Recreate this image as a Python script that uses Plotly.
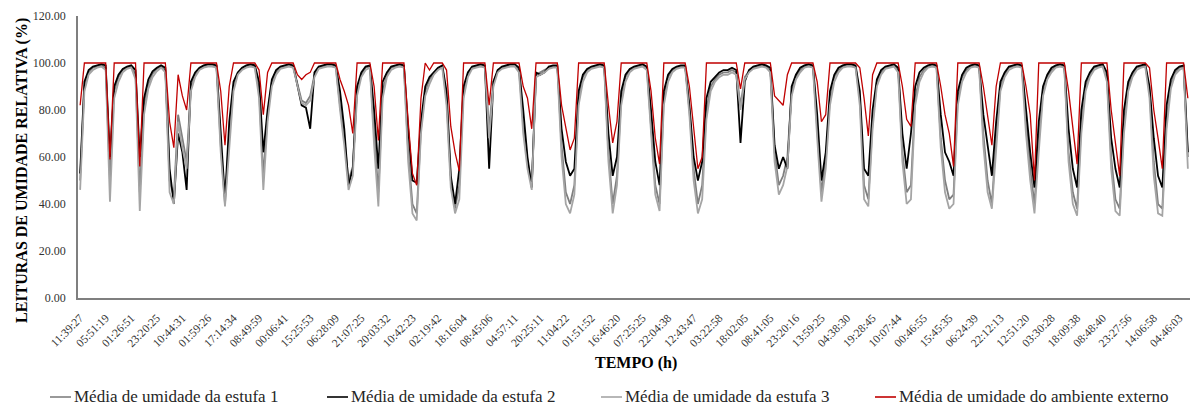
import plotly.graph_objects as go

tick_labels = ["11:39:27", "05:51:19", "01:26:51", "23:20:25", "10:44:31", "01:59:26", "17:14:34",
               "08:49:59", "00:06:41", "15:25:53", "06:28:09", "21:07:25", "20:03:32", "10:42:23",
               "02:19:42", "18:16:04", "08:45:06", "04:57:11", "20:25:11", "11:04:22", "01:51:52",
               "16:46:20", "07:25:25", "22:04:38", "12:43:47", "03:22:58", "18:02:05", "08:41:05",
               "23:20:16", "13:59:25", "04:38:30", "19:28:45", "10:07:44", "00:46:55", "15:45:35",
               "06:24:39", "22:12:13", "12:51:20", "03:30:28", "18:09:38", "08:48:40", "23:27:56",
               "14:06:58", "04:46:03"]
label_every = 6

# Média de umidade do ambiente externo (%)
externo = [
    82, 100, 100, 100, 100, 100, 100, 59, 100, 100, 100, 100, 100, 100, 56,
    100, 100, 100, 100, 100, 100, 75, 64, 95, 86, 80,
    100, 100, 100, 100, 100, 100, 100, 88, 65, 90,
    100, 100, 100, 100, 100, 100, 97, 78, 96,
    100, 100, 100, 100, 100, 100, 95, 93, 95, 96,
    100, 100, 100, 100, 100, 100, 93, 88, 82, 70,
    100, 100, 100, 100, 90, 67,
    100, 100, 100, 100, 100, 100, 75, 53, 48, 85,
    100, 97, 100, 100, 100, 97, 73, 62, 54,
    100, 100, 100, 100, 100, 100, 82,
    100, 100, 100, 100, 100, 100, 100, 90, 85, 72,
    100, 100, 100, 100, 100, 100, 82, 72, 63, 68,
    100, 100, 100, 100, 100, 100, 100, 82, 66, 75,
    100, 100, 100, 100, 100, 100, 100, 88, 68, 57,
    100, 100, 100, 100, 100, 100, 90, 73, 55, 60,
    100, 100, 100, 100, 100, 100, 100, 100, 89,
    100, 100, 100, 100, 100, 100, 100, 86, 84, 82, 95,
    100, 100, 100, 100, 100, 100, 92, 75, 78,
    100, 100, 100, 100, 100, 100, 100, 98, 85, 69, 95,
    100, 100, 100, 100, 100, 100, 90, 76, 73,
    100, 100, 100, 100, 100, 100, 90, 78, 70, 56,
    100, 100, 100, 100, 100, 100, 90, 78, 65, 90,
    100, 100, 100, 100, 100, 100, 90, 78, 50,
    100, 100, 100, 100, 100, 100, 100, 88, 72, 57,
    100, 100, 100, 100, 100, 100, 100, 80, 66, 52,
    100, 100, 100, 100, 100, 100, 98, 80, 68, 55,
    100, 100, 100, 100, 100, 85]

# Média de umidade da estufa 2 (%)
estufa2 = [
    53, 92, 97, 98.5, 99, 99.5, 99, 60, 90, 95, 97.5, 98.5, 99, 97, 60,
    85, 93, 96.5, 98, 99, 98, 55, 40, 70, 62, 46,
    92, 96, 98, 99, 99.5, 99.5, 99, 68, 42, 75,
    92, 96, 98, 99, 99.5, 99, 92, 62, 80,
    93, 97, 98.5, 99, 99.5, 99, 90, 82, 81, 72,
    96, 98.5, 99, 99.5, 99.5, 99, 88, 72, 48, 55,
    90, 96, 98.5, 99, 80, 55,
    92, 96, 98.5, 99, 99.5, 99, 72, 50, 49, 75,
    90, 94, 96, 98, 99, 88, 52, 40, 55,
    90, 96, 98.5, 99, 99.5, 99, 55,
    92, 97, 98.5, 99, 99.5, 99.5, 98, 80, 60, 47,
    96, 95, 96, 98.5, 99, 99, 72, 58, 52, 55,
    88, 95, 97.5, 98.5, 99, 99.5, 99, 70, 52, 60,
    88, 95, 97.5, 98.5, 99, 99.5, 98.5, 80, 58, 48,
    88, 95, 97.5, 98.5, 99, 99, 82, 60, 50, 58,
    85, 92, 94, 96, 97, 97, 98, 97, 66,
    92, 97, 98.5, 99, 99.5, 99, 98, 65, 55, 60, 55,
    90, 95, 98, 99, 99.5, 99, 78, 50, 62,
    88, 95, 98, 99, 99.5, 99.5, 99, 88, 55, 52, 80,
    93, 97, 98.5, 99, 99.5, 98, 70, 55, 70,
    90, 96, 98, 99, 99.5, 99, 78, 62, 58, 52,
    88, 95, 98, 99, 99.5, 99, 78, 65, 52, 75,
    92, 96, 98.5, 99, 99.5, 99, 80, 62, 47,
    75, 90, 95, 98, 99, 99.5, 99, 72, 55, 47,
    80, 92, 96, 98.5, 99, 99.5, 96, 68, 55, 47,
    80, 92, 96, 98.5, 99, 99.5, 90, 68, 52, 47,
    82, 93, 97, 98.5, 99, 62]

# Média de umidade da estufa 1 (%)
estufa1 = [
    50, 90, 96, 98, 98.5, 99, 98, 50, 88, 94, 97, 98, 98.5, 95, 45,
    82, 91, 95.5, 97.5, 98.5, 97, 50, 43, 78, 68, 58,
    90, 95, 97.5, 98.5, 99, 99, 98.5, 65, 40, 70,
    90, 95.5, 97.5, 98.5, 99, 98.5, 88, 52, 78,
    92, 96, 98, 98.5, 99, 98.5, 91, 84, 83, 86,
    95, 98, 98.5, 99, 99, 98.5, 82, 68, 50, 56,
    88, 95, 98, 98.5, 70, 45,
    88, 95, 98, 98.5, 99, 98.5, 62, 40, 36, 72,
    88, 93, 95.5, 97.5, 98.5, 85, 50, 38, 48,
    88, 95, 98, 98.5, 99, 98.5, 72,
    92, 96.5, 98, 98.5, 99, 99, 97, 75, 58, 48,
    95, 96, 97, 98, 98.5, 98.5, 65, 45, 40, 48,
    85, 94, 97, 98, 98.5, 99, 98.5, 62, 40, 52,
    85, 94, 97, 98, 98.5, 99, 98, 72, 48, 40,
    85, 94, 97, 98, 98.5, 98.5, 80, 55, 40, 48,
    80, 90, 93, 95, 96, 96, 97, 96, 82,
    94, 96.5, 98, 98.5, 99, 98.5, 97, 62, 48, 52, 60,
    88, 94, 97, 98.5, 99, 98.5, 72, 45, 58,
    85, 94, 97, 98.5, 99, 99, 98.5, 85, 48, 42, 75,
    92, 96, 98, 98.5, 99, 97, 62, 45, 48,
    85, 94, 97, 98.5, 99, 98.5, 68, 50, 42, 44,
    85, 94, 97, 98.5, 99, 98.5, 70, 50, 40, 68,
    90, 95, 98, 98.5, 99, 98.5, 75, 55, 40,
    68, 88, 94, 97, 98.5, 99, 98.5, 62, 45, 38,
    75, 90, 95, 98, 98.5, 99, 94, 60, 42, 38,
    75, 90, 95, 98, 98.5, 99, 88, 58, 40, 38,
    76, 91, 96, 98, 98.5, 60]

# Média de umidade da estufa 3 (%)
estufa3 = [
    46, 88, 95, 97, 98, 98.5, 97, 41, 85, 92, 96, 97.5, 98, 93, 37,
    78, 89, 94, 96.5, 98, 96, 45, 40, 75, 64, 55,
    88, 94, 97, 98, 98.5, 98.5, 98, 62, 39, 65,
    88, 95, 97, 98, 98.5, 98, 85, 46, 75,
    90, 95, 97.5, 98, 98.5, 98, 90, 83, 82, 84,
    94, 97.5, 98, 98.5, 98.5, 98, 80, 65, 46, 52,
    86, 94, 97, 98, 65, 39,
    85, 94, 97, 98, 98.5, 98, 58, 36, 33, 70,
    86, 91, 95, 97, 98, 82, 47, 36, 42,
    85, 94, 97.5, 98, 98.5, 98, 68,
    90, 96, 97.5, 98, 98.5, 98.5, 96, 70, 55, 46,
    94, 95, 96, 97.5, 98, 98, 60, 40, 36, 44,
    82, 92, 96, 97.5, 98, 98.5, 98, 58, 36, 48,
    82, 92, 96, 97.5, 98, 98.5, 97, 68, 44, 37,
    82, 92, 96, 97.5, 98, 98, 78, 50, 36, 42,
    76, 88, 92, 94, 95, 95, 96, 95, 80,
    93, 96, 97.5, 98, 98.5, 98, 96, 58, 44, 48, 56,
    86, 93, 96, 98, 98.5, 98, 68, 41, 55,
    82, 92, 96, 98, 98.5, 98.5, 98, 82, 42, 39, 72,
    90, 95, 97.5, 98, 98.5, 96, 58, 40, 42,
    82, 92, 96, 98, 98.5, 98, 64, 45, 38, 40,
    82, 92, 96, 98, 98.5, 98, 65, 45, 38, 62,
    88, 94, 97, 98, 98.5, 98, 70, 50, 36,
    62, 86, 93, 96, 98, 98.5, 98, 58, 40, 35,
    70, 88, 94, 97, 98, 98.5, 92, 55, 37, 35,
    70, 88, 94, 97, 98, 98.5, 85, 52, 36, 35,
    72, 89, 95, 97, 98, 55]

series_names = ["Média de umidade da estufa 1", "Média de umidade da estufa 2",
                "Média de umidade da estufa 3", "Média de umidade do ambiente externo"]
series_colors = ["#7f7f7f", "#000000", "#a5a5a5", "#c00000"]

n = len(externo)
x = list(range(n))

fig = go.Figure()
for name, ys, col, w in zip(series_names, [estufa1, estufa2, estufa3, externo], series_colors,
                            [1.8, 1.8, 1.8, 1.3]):
    fig.add_trace(go.Scatter(x=x[:len(ys)], y=ys, mode="lines", name=name, showlegend=False,
                             line=dict(color=col, width=w)))

FONT = "Liberation Serif"
W, H = 1194, 407
ML, MR, MT, MB = 78, 4, 16, 109
PW, PH = W - ML - MR, H - MT - MB


def px_x(p):
    return (p - ML) / PW


def px_y(p):
    return (H - MB - p) / PH


# legend drawn as line samples + labels below the plot
legend_line_starts = [50, 327, 601, 875]
legend_y = 397
shapes = []
annotations = []
for name, col, x0 in zip(series_names, series_colors, legend_line_starts):
    shapes.append(dict(type="line", xref="paper", yref="paper",
                       x0=px_x(x0), x1=px_x(x0 + 21), y0=px_y(legend_y), y1=px_y(legend_y),
                       line=dict(color=col, width=1.6)))
    annotations.append(dict(text=name, xref="paper", yref="paper", x=px_x(x0 + 22),
                            y=px_y(legend_y), xanchor="left", yanchor="middle", showarrow=False,
                            font=dict(family=FONT, size=17, color="#262626")))

annotations.append(dict(text="<b>TEMPO (h)</b>", xref="paper", yref="paper",
                        x=px_x(636), y=px_y(363), xanchor="center", yanchor="middle",
                        showarrow=False, font=dict(family=FONT, size=16, color="#000000")))
annotations.append(dict(text="<b>LEITURAS DE UMIDADE RELATIVA (%)</b>", xref="paper",
                        yref="paper", x=px_x(22), y=px_y(171), xanchor="center",
                        yanchor="middle", textangle=-90, showarrow=False,
                        font=dict(family=FONT, size=16, color="#000000")))

fig.update_layout(
    width=W, height=H,
    margin=dict(l=ML, r=MR, t=MT, b=MB, autoexpand=False),
    paper_bgcolor="white", plot_bgcolor="white",
    font=dict(family=FONT, color="#000000"),
    showlegend=False,
    shapes=shapes,
    annotations=annotations,
)
fig.update_xaxes(
    range=[-0.5, n - 0.5], automargin=False,
    tickmode="array", tickvals=x[::label_every][:len(tick_labels)], ticktext=tick_labels,
    tickangle=-45, tickfont=dict(family=FONT, size=11.5, color="#333333"),
    ticklabelstandoff=7,
    showline=True, linecolor="#7f7f7f", linewidth=1.5, showgrid=False, zeroline=False,
    ticks="",
)
fig.update_yaxes(
    range=[0, 120], dtick=20, tickformat=".2f", automargin=False,
    tickfont=dict(family=FONT, size=12, color="#333333"), ticklabelstandoff=8,
    showline=True, linecolor="#7f7f7f", linewidth=1.5, showgrid=False, zeroline=False,
    ticks="",
)

fig.write_html("out.html", config={"displayModeBar": False},
               post_script="document.body.style.margin='0';")
